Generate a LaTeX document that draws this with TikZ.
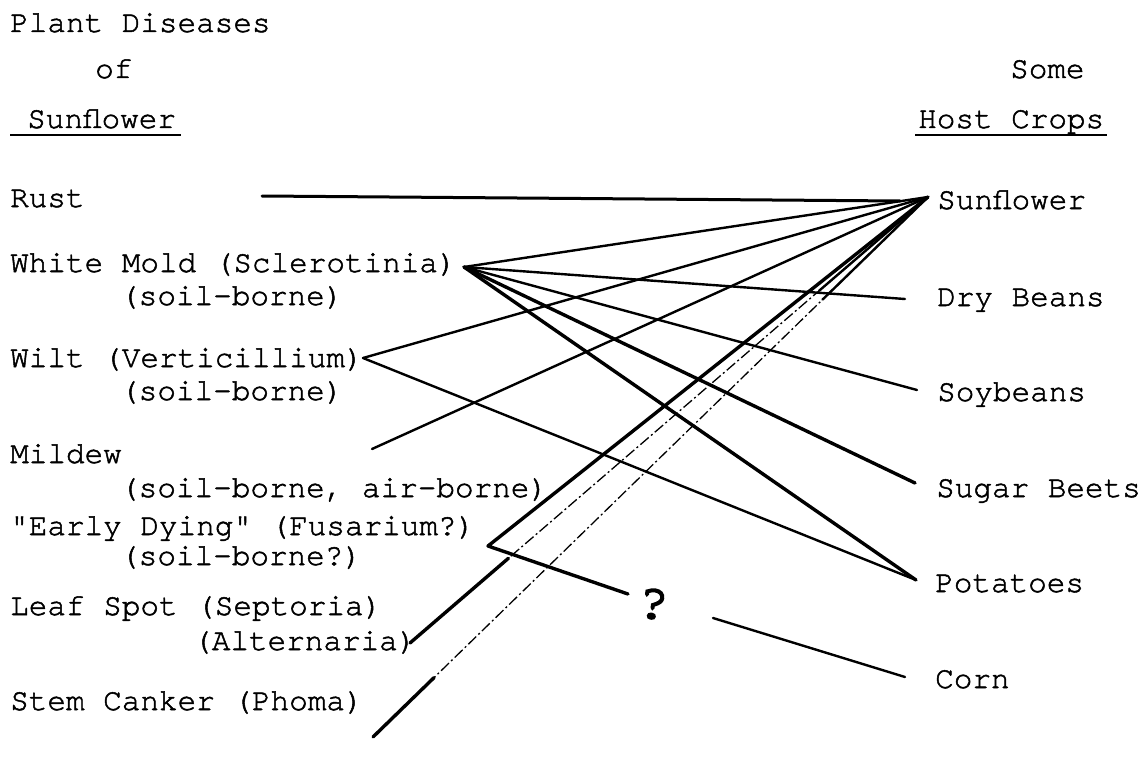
\documentclass[tikz,border=0pt]{standalone}
\usepackage{fontspec}
\newfontfamily\twfont{TeX Gyre Cursor}[FakeBold=1.6]
\newfontfamily\twbold{TeX Gyre Cursor}[FakeBold=4]
\usetikzlibrary{calc}
\tikzset{
  lbl/.style={anchor=base west, inner sep=0pt, font=\fontsize{31}{31}\selectfont\twfont},
  ln/.style={line width=2.4pt, line cap=round},
  thk/.style={line width=3.4pt, line cap=round},
  dd/.style={line width=1.3pt, dash pattern=on 11pt off 3pt on 2pt off 3pt},
  uline/.style={line width=1.4pt}
}
\begin{document}
\begin{tikzpicture}[x=1pt,y=-1pt]
\useasboundingbox[fill=white] (0,0) rectangle (1147,757);
% headings
\node[lbl] (h1) at (10,32) {Plant Diseases};
\node[lbl] (h2) at (95,78) {of};
\node[lbl] (h3) at (27,128) {Sunflower};
\draw[uline] ($(h3.base west)+(-17,7)$) -- ($(h3.base east)+(5,7)$);
\node[lbl] (r1) at (1010,78) {Some};
\node[lbl] (r2) at (918,128) {Host Crops};
\draw[uline] ($(r2.base west)+(-3,7)$) -- ($(r2.base east)+(3,7)$);
% diseases
\node[lbl] (rust) at (10,207) {Rust};
\node[lbl] (wm) at (10,272) {White Mold (Sclerotinia)};
\node[lbl] (wm2) at (120,305) {(soil-borne)};
\node[lbl] (wilt) at (10,367) {Wilt (Verticillium)};
\node[lbl] (wilt2) at (120,400) {(soil-borne)};
\node[lbl] (mil) at (10,463) {Mildew};
\node[lbl] (mil2) at (120,497) {(soil-borne, air-borne)};
\node[lbl] (ed) at (10,535) {"Early Dying" (Fusarium?)};
\node[lbl] (ed2) at (120,565) {(soil-borne?)};
\node[lbl] (ls) at (10,615) {Leaf Spot (Septoria)};
\node[lbl] (ls2) at (193,650) {(Alternaria)};
\node[lbl] (sc) at (10,710) {Stem Canker (Phoma)};
% crops
\node[lbl] (cs) at (937,209) {Sunflower};
\node[lbl] (cd) at (937,306) {Dry Beans};
\node[lbl] (cy) at (937,401) {Soybeans};
\node[lbl] (cb) at (936,497) {Sugar Beets};
\node[lbl] (cp) at (935,592) {Potatoes};
\node[lbl] (cc) at (935,688) {Corn};
\node[inner sep=0pt, rotate=-8, font=\fontsize{50}{50}\selectfont\twbold] (q) at (653,604) {?};
% connector end points
\coordinate (rustS) at (262,196);
\coordinate (rustE) at (900,201);
\coordinate (pS) at (928,197);
\coordinate (pD) at (905,299);
\coordinate (pY) at (917,390);
\coordinate (pB) at (915,483);
\coordinate (pP) at (916,580);
\coordinate (wmP) at (464,267);
\coordinate (wiP) at (363,358);
\coordinate (miP) at (372,449);
\coordinate (edP) at (488,546);
\coordinate (qIn) at (628,594);
\coordinate (qOut) at (713,618);
\coordinate (pC) at (905,677);
\coordinate (lsP) at (410,643);
\coordinate (scP) at (373,737);
% connectors
\draw[line width=3pt, line cap=round] (rustS) -- (rustE);
\draw[ln] (wmP) -- (pS);
\draw[ln] (wmP) -- (pD);
\draw[ln] (wmP) -- (pY);
\draw[thk] (wmP) -- (pB);
\draw[thk] (wmP) -- (pP);
\draw[ln] (wiP) -- (pS);
\draw[ln] (wiP) -- (pP);
\draw[ln] (miP) -- (pS);
\draw[thk, line join=round] (pS) -- (edP) -- (qIn);
\draw[ln] (qOut) -- (pC);
% leaf spot: solid ends, dash-dot middle
\draw[dd] (lsP) -- (pS);
\draw[thk] (lsP) -- ($(lsP)!0.19!(pS)$);
\draw[ln] ($(lsP)!0.79!(pS)$) -- (pS);
% stem canker
\draw[dd] (scP) -- (pS);
\draw[thk] (scP) -- ($(scP)!0.11!(pS)$);
\draw[ln] ($(scP)!0.81!(pS)$) -- (pS);
\end{tikzpicture}
\end{document}
